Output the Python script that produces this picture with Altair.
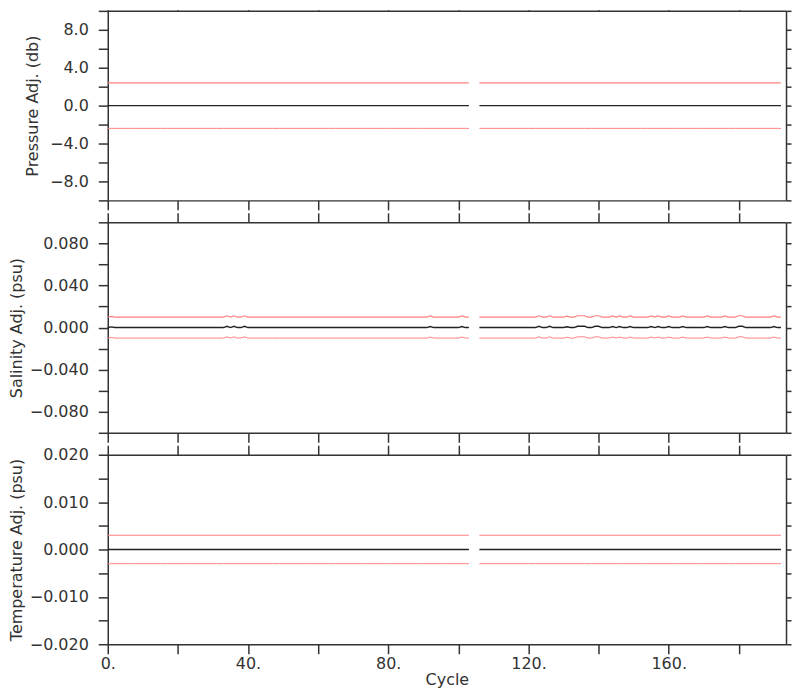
import altair as alt
import pandas as pd

# ---- data ----
cycles_first = list(range(0, 104))      # cycles 0..103
cycles_second = list(range(106, 193))   # cycles 106..192 (104, 105 missing)

pressure_error = 2.4
temperature_error = 0.003
salinity_error = 0.01

salinity_bump_cycles = [1, 34, 36, 39, 92, 101, 123, 126, 131, 134, 135, 136, 139, 140,
                        144, 146, 149, 155, 157, 160, 164, 171, 176, 180, 181, 190]
salinity_bump_values = [0.0006, 0.0012, 0.0012, 0.0012, 0.001, 0.001, 0.0012, 0.0012, 0.0008,
                        0.0012, 0.0012, 0.0012, 0.0012, 0.0012, 0.001, 0.001, 0.001, 0.001,
                        0.001, 0.001, 0.001, 0.001, 0.001, 0.0012, 0.0012, 0.001]

x_ticks = [0, 20, 40, 60, 80, 100, 120, 140, 160, 180]
pressure_ticks = [-10, -8, -6, -4, -2, 0, 2, 4, 6, 8, 10]
salinity_ticks = [-0.1, -0.08, -0.06, -0.04, -0.02, 0.0, 0.02, 0.04, 0.06, 0.08, 0.1]
temperature_ticks = [-0.02, -0.015, -0.01, -0.005, 0.0, 0.005, 0.01, 0.015, 0.02]

FONT = "DejaVu Sans"
INK = "#333333"
PLOT_W = 680
X_MAX = 193.45


def build(adj_lookup, err):
    rows = []
    for seg, cyc in (("a", cycles_first), ("b", cycles_second)):
        for c in cyc:
            a = adj_lookup.get(c, 0.0)
            rows.append(dict(cycle=c, value=a, series="adj", key="adj" + seg))
            rows.append(dict(cycle=c, value=a + err, series="upper", key="upper" + seg))
            rows.append(dict(cycle=c, value=a - err, series="lower", key="lower" + seg))
    return pd.DataFrame(rows)


pressure_df = build({}, pressure_error)
salinity_df = build(dict(zip(salinity_bump_cycles, salinity_bump_values)), salinity_error)
temperature_df = build({}, temperature_error)


def panel(df, ydom, yticks, ytest, yfmt, ytitle, title_x, height, top_tick, last):
    xs = alt.Scale(domain=[0, X_MAX], nice=False, zero=False)
    ys = alt.Scale(domain=ydom, nice=False, zero=False)
    if last:
        x_bottom = alt.Axis(orient="bottom", values=x_ticks,
                            labelExpr="datum.value % 40 == 0 ? datum.value + '.' : ''",
                            labelFontSize={"condition": {"test": "datum.value % 40 == 0", "value": 16},
                                           "value": 0},
                            title="Cycle", tickSize=9.5, labelPadding=2, titlePadding=0,
                            labelFlush=False, labelOverlap=False, grid=False)
    else:
        x_bottom = alt.Axis(orient="bottom", values=x_ticks, labels=False, title=None,
                            tickSize=9.5, grid=False)
    y_left = alt.Axis(orient="left", values=yticks,
                      labelExpr=f"{ytest} ? format(datum.value, '{yfmt}') : ''",
                      labelFontSize={"condition": {"test": ytest, "value": 16}, "value": 0},
                      title=ytitle, titleX=title_x, tickSize=9.5, labelPadding=10,
                      labelOverlap=False, labelFlush=False, grid=False)
    x_top = alt.Axis(orient="top", values=x_ticks, labels=False, title=None,
                     tickSize=top_tick, grid=False)
    y_right = alt.Axis(orient="right", values=yticks, labels=False, title=None,
                       tickSize=5, grid=False)

    main = alt.Chart(df).mark_line().encode(
        x=alt.X("cycle:Q", scale=xs, axis=x_bottom),
        y=alt.Y("value:Q", scale=ys, axis=y_left),
        color=alt.Color("series:N",
                        scale=alt.Scale(domain=["adj", "upper", "lower"],
                                        range=["#222222", "#ff8080", "#ff8080"]),
                        legend=None),
        strokeWidth=alt.StrokeWidth("series:N",
                                    scale=alt.Scale(domain=["adj", "upper", "lower"],
                                                    range=[1.4, 1, 1]),
                                    legend=None),
        detail="key:N",
    )
    ghost = alt.Chart(df).mark_line(opacity=0).encode(
        x=alt.X("cycle:Q", scale=xs, axis=x_top),
        y=alt.Y("value:Q", scale=ys, axis=y_right),
        detail="key:N",
    )
    return alt.layer(main, ghost).resolve_axis(x="independent", y="independent").properties(
        width=PLOT_W, height=height)


p1 = panel(pressure_df, [-10, 10], pressure_ticks,
           "abs(round(datum.value)) % 4 == 0", ".1f",
           "Pressure Adj. (db)", -67, 190, 1, False)
p2 = panel(salinity_df, [-0.1, 0.1], salinity_ticks,
           "abs(round(datum.value * 1000)) % 40 == 0", ".3f",
           "Salinity Adj. (psu)", -83, 211, 9.5, False)
p3 = panel(temperature_df, [-0.02, 0.02], temperature_ticks,
           "abs(round(datum.value * 1000)) % 10 == 0", ".3f",
           "Temperature Adj. (psu)", -83, 190, 9.5, True)

chart = alt.vconcat(p1, p2, p3, spacing=22, bounds="flush").properties(
    padding={"left": 0, "top": 0, "right": 0, "bottom": 0}
).configure_axis(
    domainColor=INK, domainWidth=1.5, tickColor=INK, tickWidth=1.5,
    labelColor=INK, titleColor=INK, labelFont=FONT, titleFont=FONT,
    labelFontSize=16, titleFontSize=16, titleFontWeight="normal",
).configure_view(strokeWidth=0)

chart.save("out.html", embed_options={"renderer": "svg", "actions": False})
